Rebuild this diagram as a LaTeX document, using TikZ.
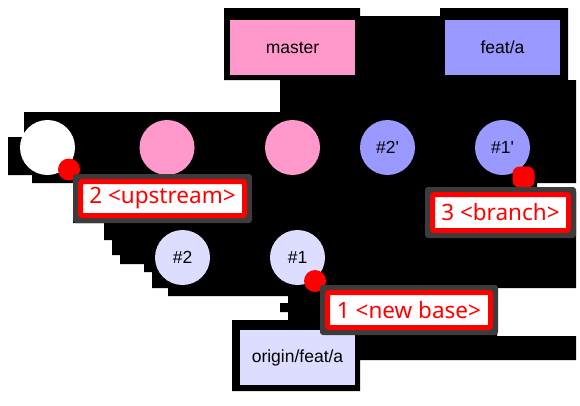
\documentclass[tikz,border=0pt]{standalone}
\usepackage{fontspec}
\setmainfont{Liberation Sans}
\newfontfamily\tagfont{Noto Sans}
\definecolor{mainpink}{HTML}{FF99CC}
\definecolor{featblue}{HTML}{9999FF}
\definecolor{remotelav}{HTML}{DDDDFF}
\definecolor{tagred}{HTML}{FF0000}
\definecolor{halo}{HTML}{3C3C3C}
\begin{document}
\begin{tikzpicture}[x=1pt,y=-1pt,
  commit/.style={circle,minimum size=55pt,inner sep=0pt,
    font=\fontsize{17.5}{20}\selectfont},
  refbox/.style={rectangle,inner sep=0pt,minimum height=55pt,
    font=\fontsize{17.5}{20}\selectfont},
  marker/.style={circle,fill=tagred,minimum size=22pt,inner sep=0pt},
  tagbox/.style={rectangle,rounded corners=2pt,draw=tagred,line width=5pt,fill=white,
    text=tagred,inner sep=0pt,font=\tagfont\fontsize{22.5}{26}\selectfont},
  tagshade/.style={fill=halo,rounded corners=3pt}]
\useasboundingbox (0,0) rectangle (580,405);
\fill[white] (0,0) rectangle (580,405);
% dark backdrop behind the graph
\fill[black] (224,8) -- (360,8) -- (360,16) -- (440,16) -- (440,8)
  -- (568,8) -- (568,80) -- (576,80) -- (576,183) -- (537,183)
  -- (537,192) -- (576,192) -- (576,288) -- (497,288) -- (497,336)
  -- (576,336) -- (576,360) -- (360,360) -- (360,391) -- (232,391)
  -- (232,320) -- (288,320) -- (288,312) -- (280,312) -- (280,303)
  -- (288,303) -- (288,296) -- (168,296) -- (168,288) -- (152,288)
  -- (152,272) -- (144,272) -- (144,264) -- (120,264) -- (120,255)
  -- (112,255) -- (112,240) -- (104,240) -- (104,223) -- (73,223)
  -- (73,183) -- (32,183) -- (32,175) -- (8,175) -- (8,137)
  -- (24,137) -- (24,112) -- (280,112) -- (280,80) -- (224,80) -- cycle;
% branch refs
\node[refbox,fill=mainpink,minimum width=125pt] (master) at (292.5,47.5) {master};
\node[refbox,fill=featblue,minimum width=115pt] (feat) at (502.5,47.5) {feat/a};
\node[refbox,fill=remotelav,minimum width=115pt] (origin) at (297.5,357.5) {origin/feat/a};
% commits
\node[commit,fill=white] (c0) at (47.5,147.5) {};
\node[commit,fill=mainpink] (m1) at (167,147.5) {};
\node[commit,fill=mainpink] (m2) at (292.5,147.5) {};
\node[commit,fill=featblue] (n2) at (387.5,147.5) {\#2\textquotesingle};
\node[commit,fill=featblue] (n1) at (502.5,147.5) {\#1\textquotesingle};
\node[commit,fill=remotelav] (o2) at (182.5,257.5) {\#2};
\node[commit,fill=remotelav] (o1) at (297.5,257.5) {\#1};
% markers
\node[marker] (k2) at (69,169.5) {};
\node[marker,rectangle,rounded corners=7pt,minimum width=22pt,minimum height=21pt] (k3) at (523.5,177) {};
\node[marker] (k1) at (315,281) {};
% tags with soft halo
\fill[tagshade] (73,174) rectangle (252,223);
\fill[tagshade] (425,187) rectangle (576,238);
\fill[tagshade] (320,285) rectangle (498,335);
\node[tagbox,minimum width=164pt,minimum height=34pt] (t2) at (162.5,198.5) {2 <upstream>};
\node[tagbox,minimum width=136pt,minimum height=36pt] (t3) at (500.5,212.5) {3 <branch>};
\node[tagbox,minimum width=163pt,minimum height=35pt] (t1) at (409,310) {1 <new base>};
\end{tikzpicture}
\end{document}
